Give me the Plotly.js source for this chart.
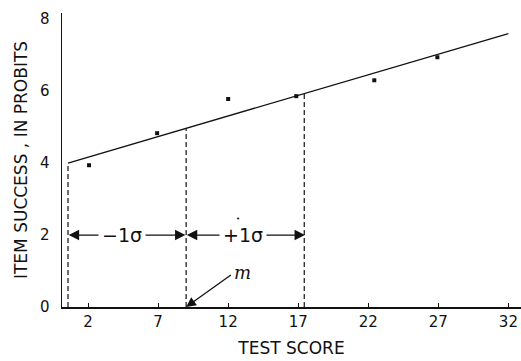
<!DOCTYPE html>
<html><head><meta charset="utf-8">
<script src="https://cdn.plot.ly/plotly-3.0.1.min.js"></script>
<style>html,body{margin:0;padding:0;background:#fff}#c{width:521px;height:361px}</style>
</head><body><div id="c"></div>
<script>
// Observed points (test score, item success in probits)
const scoreX = [2.07, 6.93, 12.0, 16.86, 22.43, 26.93];
const probitY = [3.94, 4.83, 5.78, 5.86, 6.3, 6.94];
// Fitted line endpoints
const lineX = [0.57, 32.0];
const lineY = [4.0, 7.6];
// Dashed verticals: m - 1σ, m, m + 1σ
const markX = [0.57, 9.0, 17.43];
const markY = [4.0, 4.97, 5.93];
// Sigma arrows level
const arrowLevel = 2;
const sigmaLabels = ["\u22121\u03c3", "+1\u03c3"];
const sigmaLabelX = [4.43, 13.07];
const mLabel = "m";
const mLabelPos = [13.0, 0.97];
const speckX = [12.7];
const speckY = [2.45];
const tickVals = [2, 7, 12, 17, 22, 27, 32];
const yTickVals = [0, 2, 4, 6, 8];

const ink = "#111";
const traces = [
  {x: lineX, y: lineY, mode: "lines", line: {color: ink, width: 1.3}, hoverinfo: "skip"},
  {x: scoreX, y: probitY, mode: "markers", marker: {color: ink, size: 4, symbol: "square"}, hoverinfo: "skip"}
];
markX.forEach((mx, i) => {
  traces.push({x: [mx, mx], y: [0, markY[i]], mode: "lines", line: {color: ink, width: 1.2, dash: "5px,3px"}, hoverinfo: "skip"});
});

const ann = [];
function arrowPair(a, b, lab, lx) {
  ann.push({x: a, y: arrowLevel, ax: lx, ay: arrowLevel, axref: "x", ayref: "y", xref: "x", yref: "y",
    text: "", showarrow: true, arrowhead: 2, arrowsize: 1.6, arrowwidth: 1.3, arrowcolor: ink});
  ann.push({x: b, y: arrowLevel, ax: lx, ay: arrowLevel, axref: "x", ayref: "y", xref: "x", yref: "y",
    text: "", showarrow: true, arrowhead: 2, arrowsize: 1.6, arrowwidth: 1.3, arrowcolor: ink});
  ann.push({x: lx, y: arrowLevel, xref: "x", yref: "y", text: lab, showarrow: false,
    bgcolor: "#fff", borderpad: 3, font: {family: "DejaVu Sans", size: 19, color: ink}});
}
arrowPair(markX[0] + 0.05, markX[1] - 0.05, sigmaLabels[0], sigmaLabelX[0]);
arrowPair(markX[1] + 0.05, markX[2] + 0.05, sigmaLabels[1], sigmaLabelX[1]);
// small speck above the +1σ label (drawn after the label background)
ann.push({x: speckX[0], y: speckY[0], xref: "x", yref: "y", text: "\u2022", showarrow: false,
  font: {family: "DejaVu Sans", size: 7, color: ink}});
ann.push({x: markX[1], y: 0, ax: mLabelPos[0] - 0.7, ay: mLabelPos[1] - 0.05, axref: "x", ayref: "y", xref: "x", yref: "y",
  text: "", showarrow: true, arrowhead: 2, arrowsize: 1.5, arrowwidth: 1.3, arrowcolor: ink});
ann.push({x: mLabelPos[0], y: mLabelPos[1], xref: "x", yref: "y", text: mLabel, showarrow: false,
  font: {family: "DejaVu Serif", size: 18, color: ink, style: "italic"}});

const layout = {
  width: 521, height: 361,
  margin: {l: 62, r: 0, t: 13, b: 54},
  paper_bgcolor: "#fff", plot_bgcolor: "#fff",
  showlegend: false,
  font: {family: "DejaVu Sans", color: ink, size: 13},
  xaxis: {range: [0.14, 32.9], tickvals: tickVals, ticks: "inside", ticklen: 4, tickcolor: ink,
    showline: true, linecolor: ink, linewidth: 1.5, showgrid: false, zeroline: false,
    tickfont: {size: 15}, title: {text: "TEST SCORE", font: {size: 17}, standoff: 12}},
  yaxis: {range: [0, 8.17], tickvals: yTickVals, ticks: "", showline: true, linecolor: ink, linewidth: 1.5,
    showgrid: false, zeroline: false, tickfont: {size: 15}, ticklabelstandoff: 8,
    title: {text: "ITEM SUCCESS , IN PROBITS", font: {size: 17}, standoff: 8}},
  annotations: ann
};
Plotly.newPlot("c", traces, layout, {staticPlot: true, displayModeBar: false});
</script></body></html>
